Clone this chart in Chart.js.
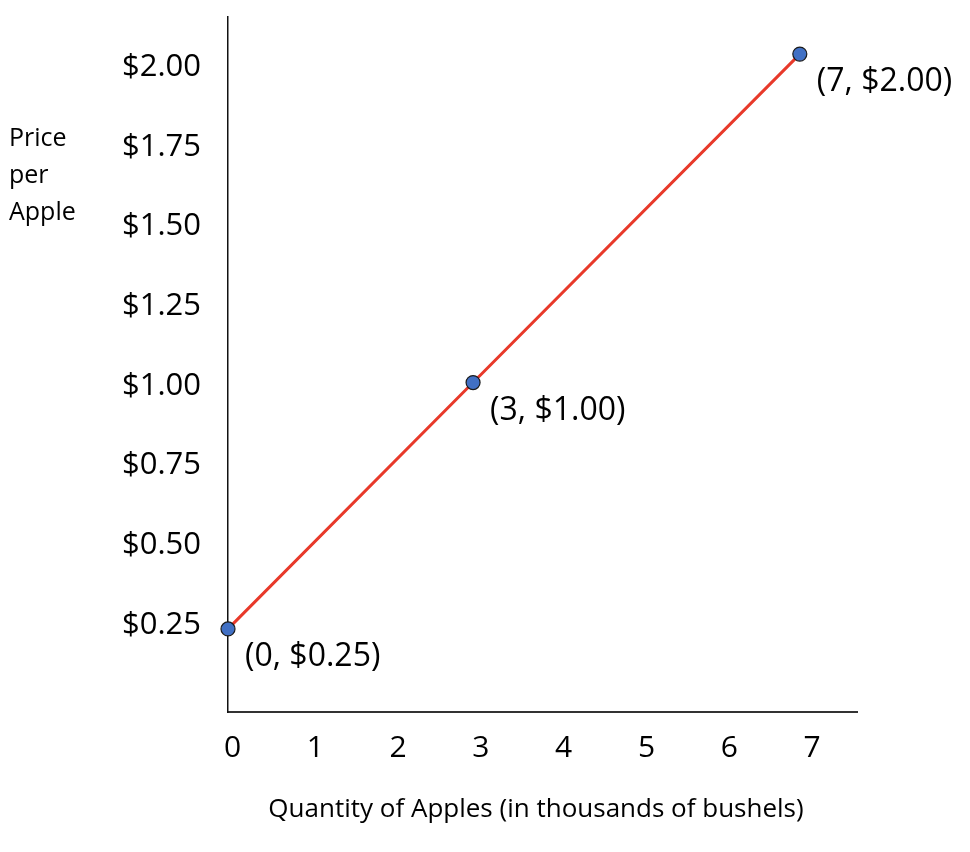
<!DOCTYPE html>
<html>
<head>
<meta charset="utf-8">
<script src="https://cdn.jsdelivr.net/npm/chart.js@4.4.0/dist/chart.umd.min.js"></script>
<style>
  html, body { margin: 0; padding: 0; background: #fff; }
  #wrap { width: 970px; height: 852px; }
</style>
</head>
<body>
<div id="wrap"><canvas id="grafico"></canvas></div>
<script>
// dati
const quantita = [0, 3, 7];
const prezzi = [0.25, 1.00, 2.00];
const etichettePunti = ['(0, $0.25)', '(3, $1.00)', '(7, $2.00)'];
const tickX = [0, 1, 2, 3, 4, 5, 6, 7];
const tickY = [0.25, 0.50, 0.75, 1.00, 1.25, 1.50, 1.75, 2.00];
const titoloY = ['Price', 'per', 'Apple'];
const titoloX = 'Quantity of Apples (in thousands of bushels)';

const FONT = '"Open Sans", Lato, sans-serif';

// etichette dei punti e titoli degli assi
const testiPlugin = {
    id: 'testi',
    afterDatasetsDraw(chart) {
        const ctx = chart.ctx;
        const sx = chart.scales.xd, sy = chart.scales.yd;
        ctx.save();
        ctx.fillStyle = '#000';
        ctx.font = '32px ' + FONT;
        ctx.textAlign = 'left';
        ctx.textBaseline = 'middle';
        quantita.forEach((q, i) => {
            ctx.fillText(etichettePunti[i], sx.getPixelForValue(q) + 17, sy.getPixelForValue(prezzi[i]) + 28);
        });
        ctx.font = '25px ' + FONT;
        titoloY.forEach((t, i) => ctx.fillText(t, 9, 139 + i * 37));
        ctx.textAlign = 'center';
        ctx.font = '26px ' + FONT;
        ctx.fillText(titoloX, 536, 810);
        ctx.restore();
    }
};

const senzaPadding = s => { s.paddingTop = 0; s.paddingBottom = 0; s.paddingLeft = 0; s.paddingRight = 0; };

new Chart(document.getElementById('grafico'), {
    type: 'scatter',
    data: {
        datasets: [{
            data: quantita.map((q, i) => ({ x: q, y: prezzi[i] })),
            xAxisID: 'xd',
            yAxisID: 'yd',
            showLine: true,
            clip: false,
            borderColor: '#e8392a',
            borderWidth: 3,
            pointRadius: 7,
            pointBackgroundColor: '#4170c4',
            pointBorderColor: '#1a1a1a',
            pointBorderWidth: 1.2
        }]
    },
    plugins: [testiPlugin],
    options: {
        responsive: true,
        maintainAspectRatio: false,
        animation: false,
        layout: { padding: { top: 17, right: 113, left: 0, bottom: 0 } },
        plugins: { legend: { display: false }, tooltip: { enabled: false } },
        scales: {
            // assi con le etichette (come nel disegno originale)
            x: {
                type: 'linear',
                position: 'bottom',
                min: -0.054,
                max: 7.542,
                afterBuildTicks: s => { s.ticks = tickX.map(v => ({ value: v })); },
                afterFit: s => { s.height = 140; senzaPadding(s); },
                grid: { display: false, drawTicks: false },
                border: { display: true, color: '#333', width: 2 },
                ticks: {
                    padding: 18,
                    color: '#000',
                    font: { family: FONT, size: 30 },
                    maxRotation: 0
                }
            },
            y: {
                type: 'linear',
                position: 'left',
                min: -0.023,
                max: 2.157,
                afterBuildTicks: s => { s.ticks = tickY.map(v => ({ value: v })); },
                afterFit: s => { s.width = 228; senzaPadding(s); },
                grid: { display: false, drawTicks: false },
                border: { display: true, color: '#111', width: 1.5 },
                ticks: {
                    padding: 27,
                    color: '#000',
                    font: { family: FONT, size: 31 },
                    callback: v => '$' + Number(v).toFixed(2)
                }
            },
            // assi dei dati
            xd: { type: 'linear', display: false, min: 0, max: 7.70 },
            yd: { type: 'linear', display: false, min: -0.003, max: 2.113 }
        }
    }
});
</script>
</body>
</html>
